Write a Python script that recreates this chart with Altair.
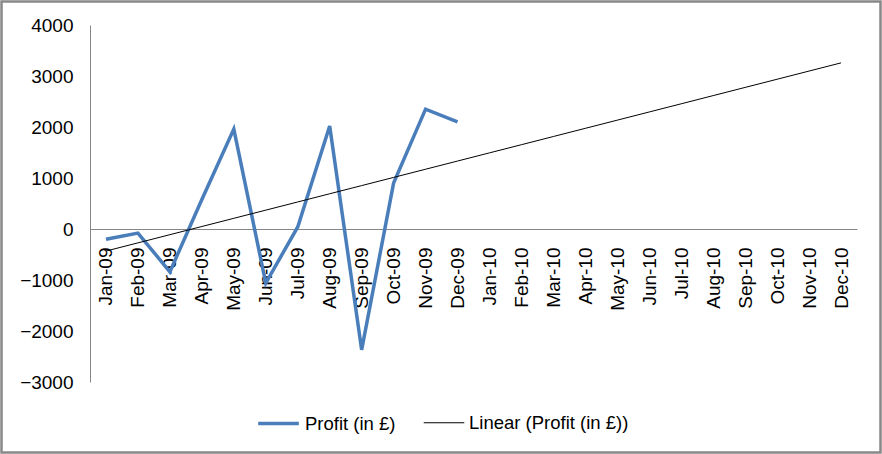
import altair as alt
import numpy as np
import pandas as pd

months = ["Jan-09", "Feb-09", "Mar-09", "Apr-09", "May-09", "Jun-09",
          "Jul-09", "Aug-09", "Sep-09", "Oct-09", "Nov-09", "Dec-09",
          "Jan-10", "Feb-10", "Mar-10", "Apr-10", "May-10", "Jun-10",
          "Jul-10", "Aug-10", "Sep-10", "Oct-10", "Nov-10", "Dec-10"]
profit = [-200, -80, -840, 580, 1960, -1060, 40, 2020, -2370, 900, 2350, 2100]
y_ticks = [-3000, -2000, -1000, 0, 1000, 2000, 3000, 4000]

S1 = "Profit (in £)"
S2 = "Linear (Profit (in £))"

# linear trendline (least squares over the actual data), extended over all months
xi = np.arange(1, len(profit) + 1)
slope, intercept = np.polyfit(xi, profit, 1)
trend = [float(slope * (i + 1) + intercept) for i in range(len(months))]

df = pd.DataFrame({
    "month": months[:len(profit)] + months,
    "value": profit + trend,
    "series": [S1] * len(profit) + [S2] * len(months),
})

W, H = 767, 357
FONT = "Liberation Sans"

x = alt.X("month:O", sort=months, scale=alt.Scale(domain=months, paddingInner=0, paddingOuter=0),
          axis=alt.Axis(title=None, labelAngle=-90, ticks=False, domainColor="#868686",
                        domainWidth=1, labelPadding=18, offset=-int(round(H * 3000 / 7000)),
                        labelFontSize=19, labelColor="black", labelFont=FONT))
y = alt.Y("value:Q", scale=alt.Scale(domain=[-3000, 4000], nice=False, zero=False),
          axis=alt.Axis(title=None, values=y_ticks, format="d", grid=False, ticks=False,
                        domainColor="#868686", domainWidth=1, labelPadding=17,
                        labelFontSize=19, labelColor="black", labelFont=FONT))

leg = alt.Legend(title=None, orient="none", direction="horizontal",
                 legendX=166, legendY=376, symbolType="stroke",
                 symbolSize=1650, labelFontSize=18.5, labelFont=FONT,
                 labelColor="black", columnPadding=25, labelOffset=4)

lines = alt.Chart(df).mark_line().encode(
    x=x, y=y,
    color=alt.Color("series:N", scale=alt.Scale(domain=[S1, S2], range=["#4A7EBB", "#000000"]),
                    legend=leg),
    strokeWidth=alt.StrokeWidth("series:N", scale=alt.Scale(domain=[S1, S2], range=[3.5, 1]),
                                legend=leg),
    order=alt.Order("series:N"),
)

frame = alt.Chart(pd.DataFrame({"a": [0]})).mark_rect(
    fill=None, stroke="#888888", strokeWidth=2.5, clip=False
).encode(
    x=alt.value(-88.5), x2=alt.value(W + 23.5),
    y=alt.value(-23.5), y2=alt.value(H + 70.5),
)

chart = alt.layer(lines, frame).properties(
    width=W, height=H,
    autosize=alt.AutoSizeParams(type="none"),
    padding={"left": 90, "top": 25, "right": 25, "bottom": 72},
).configure(background="white").configure_view(stroke=None, strokeWidth=0)

chart.save("out.html", embed_options={"renderer": "svg", "actions": False})
